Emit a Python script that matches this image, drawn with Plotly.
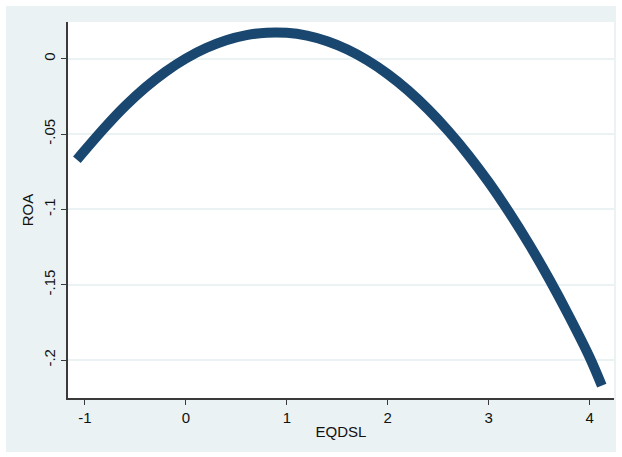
import plotly.graph_objects as go

eqdsl = [-1.08, -0.8, -0.6, -0.4, -0.2, 0.0, 0.2, 0.4, 0.6, 0.8, 1.0, 1.2, 1.4,
         1.6, 1.8, 2.0, 2.2, 2.4, 2.6, 2.8, 3.0, 3.2, 3.4, 3.6, 3.8, 4.0, 4.12]
roa = [-0.067, -0.0454, -0.0313, -0.0190, -0.0085, 0.0002, 0.0071, 0.0123, 0.0157,
       0.0173, 0.0172, 0.0153, 0.0116, 0.0061, -0.0012, -0.0102, -0.0210, -0.0336,
       -0.0480, -0.0641, -0.0820, -0.1017, -0.1231, -0.1464, -0.1714, -0.1982, -0.2170]

x_ticks = [-1, 0, 1, 2, 3, 4]
x_labels = ["-1", "0", "1", "2", "3", "4"]
y_ticks = [0, -0.05, -0.1, -0.15, -0.2]
y_labels = ["0", "-.05", "-.1", "-.15", "-.2"]

navy = "#1a476f"
bg = "#eaf2f3"
axcol = "#3a3a3a"

fig = go.Figure()
fig.add_trace(go.Scatter(
    x=eqdsl, y=roa, mode="lines",
    line=dict(color=navy, width=10, shape="spline"),
    showlegend=False, hoverinfo="skip"))

L, R, T, B = 68, 8, 22, 59
W, H = 622, 457
pw, ph = W - L - R, H - T - B

def px_x(p):
    return (p - L) / pw

def px_y(p):
    return (H - B - p) / ph

fig.add_shape(type="rect", xref="paper", yref="paper",
              x0=px_x(6), x1=px_x(616), y0=px_y(452), y1=px_y(6),
              fillcolor=bg, line=dict(width=0), layer="below")
fig.add_shape(type="rect", xref="paper", yref="paper",
              x0=0, x1=1, y0=0, y1=1,
              fillcolor="white", line=dict(width=0), layer="below")

font = dict(family="Liberation Sans, Arial, sans-serif", size=15, color="#111111")

fig.update_layout(
    width=W, height=H,
    margin=dict(l=L, r=R, t=T, b=B, autoexpand=False),
    paper_bgcolor="white", plot_bgcolor="rgba(0,0,0,0)",
    font=font,
    xaxis=dict(range=[-1.168, 4.241], tickvals=x_ticks, ticktext=x_labels,
               automargin=False,
               showgrid=False, zeroline=False, showline=True, linecolor=axcol,
               linewidth=1.5, ticks="outside", ticklen=5, tickcolor=axcol,
               title=dict(text="EQDSL", standoff=2, font=font)),
    yaxis=dict(range=[-0.2252, 0.0244], tickvals=y_ticks, ticktext=y_labels,
               automargin=False,
               tickangle=-90, showgrid=True, gridcolor=bg, gridwidth=1.5,
               zeroline=False, showline=True, linecolor=axcol, linewidth=1.5,
               ticks="outside", ticklen=5, tickcolor=axcol,
               title=dict(text="ROA", standoff=4, font=font)),
)

fig.write_html("out.html", config={"displayModeBar": False},
               post_script="document.body.style.margin='0';document.body.style.padding='0';")
